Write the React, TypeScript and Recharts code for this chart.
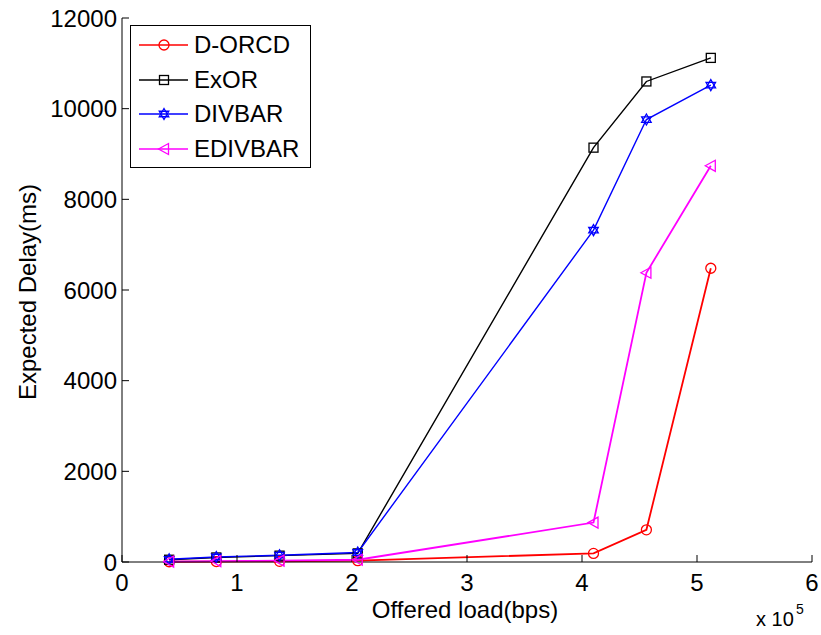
import React from 'react'
import { LineChart, Line, XAxis, YAxis, Label } from 'recharts'

// offered load, in units of 10^5 bps
const loads = [0.41, 0.82, 1.37, 2.05, 4.1, 4.56, 5.12]

const dorcd = [5, 10, 15, 30, 190, 710, 6480]
const exor = [50, 100, 140, 190, 9140, 10600, 11120]
const divbar = [60, 110, 150, 210, 7320, 9760, 10520]
const edivbar = [10, 20, 30, 50, 870, 6380, 8740]

const xTicks = [0, 1, 2, 3, 4, 5, 6]
const yTicks = [0, 2000, 4000, 6000, 8000, 10000, 12000]

const data = loads.map((x, i) => ({
  x,
  dorcd: dorcd[i],
  exor: exor[i],
  divbar: divbar[i],
  edivbar: edivbar[i],
}))

const FONT = '"Liberation Sans", Arial, Helvetica, sans-serif'

const CircleDot = (p: any) => (
  <circle key={p.key} cx={p.cx} cy={p.cy} r={5} fill="none" stroke={p.stroke} strokeWidth={1.3} />
)
const SquareDot = (p: any) => (
  <rect key={p.key} x={p.cx - 4.5} y={p.cy - 4.5} width={9} height={9} fill="none" stroke={p.stroke} strokeWidth={1.3} />
)
const hexPath = (cx: number, cy: number, r: number) => {
  const tri = (a0: number) =>
    [0, 1, 2]
      .map((k) => {
        const a = a0 + (k * 2 * Math.PI) / 3
        return `${cx + r * Math.cos(a)},${cy + r * Math.sin(a)}`
      })
      .join(' ')
  return [tri(-Math.PI / 2), tri(Math.PI / 2)]
}
const HexDot = (p: any) => {
  const [a, b] = hexPath(p.cx, p.cy, 5.5)
  return (
    <g key={p.key}>
      <polygon points={a} fill="none" stroke={p.stroke} strokeWidth={1.3} />
      <polygon points={b} fill="none" stroke={p.stroke} strokeWidth={1.3} />
    </g>
  )
}
const TriDot = (p: any) => (
  <polygon
    key={p.key}
    points={`${p.cx - 5.5},${p.cy} ${p.cx + 4.5},${p.cy - 5.5} ${p.cx + 4.5},${p.cy + 5.5}`}
    fill="none"
    stroke={p.stroke}
    strokeWidth={1.3}
  />
)

const series = [
  { key: 'dorcd', name: 'D-ORCD', color: '#ff0000', width: 1.8, Dot: CircleDot },
  { key: 'exor', name: 'ExOR', color: '#000000', width: 1.4, Dot: SquareDot },
  { key: 'divbar', name: 'DIVBAR', color: '#0000ff', width: 1.4, Dot: HexDot },
  { key: 'edivbar', name: 'EDIVBAR', color: '#ff00ff', width: 1.8, Dot: TriDot },
]

// tick labels drawn by hand so the font size sticks
const BottomTick = (p: any) => (
  <text x={p.x} y={p.y} dy="0.71em" textAnchor="middle" fontSize={24} fontFamily={FONT} fill="#000">
    {p.payload.value}
  </text>
)
const LeftTick = (p: any) => (
  <text x={p.x} y={p.y} dy="0.355em" textAnchor="end" fontSize={24} fontFamily={FONT} fill="#000">
    {p.payload.value}
  </text>
)

export default function App() {
  const noLabel = () => ''
  return (
    <div style={{ position: 'absolute', left: 0, top: 0, width: 821, height: 635, background: '#fff', fontFamily: FONT }}>
      <LineChart width={821} height={635} data={data} margin={{ top: 18, right: 9, bottom: 0, left: 0 }}>
        <XAxis
          xAxisId="b"
          dataKey="x"
          type="number"
          domain={[0, 6]}
          ticks={xTicks}
          height={73}
          tickSize={-7}
          tickMargin={19}
          stroke="#000"
          tick={<BottomTick />}
        >
          <Label
            content={() => (
              <text x={465} y={618} textAnchor="middle" fontSize={24} fontFamily={FONT} fill="#000">
                Offered load(bps)
              </text>
            )}
          />
        </XAxis>
        <XAxis
          xAxisId="t"
          orientation="top"
          dataKey="x"
          type="number"
          domain={[0, 6]}
          ticks={xTicks}
          height={0}
          tickSize={-7}
          tickFormatter={noLabel}
          stroke="#000"
        />
        <YAxis
          yAxisId="l"
          type="number"
          domain={[0, 12000]}
          ticks={yTicks}
          width={122}
          tickSize={-7}
          tickMargin={12}
          stroke="#000"
          tick={<LeftTick />}
        >
          <Label
            content={() => (
              <text x={36} y={292} transform="rotate(-90 36 292)" textAnchor="middle" fontSize={24} fontFamily={FONT} fill="#000">
                Expected Delay(ms)
              </text>
            )}
          />
        </YAxis>
        <YAxis
          yAxisId="r"
          orientation="right"
          type="number"
          domain={[0, 12000]}
          ticks={yTicks}
          width={0}
          tickSize={-7}
          tickFormatter={noLabel}
          stroke="#000"
        />
        {series.map((s) => (
          <Line
            key={s.key}
            xAxisId="b"
            yAxisId="l"
            dataKey={s.key}
            name={s.name}
            type="linear"
            stroke={s.color}
            strokeWidth={s.width}
            dot={(p: any) => <s.Dot {...p} stroke={s.color} />}
            activeDot={false}
            isAnimationActive={false}
          />
        ))}
      </LineChart>

      {/* legend box */}
      <div
        style={{
          position: 'absolute',
          left: 130,
          top: 25,
          width: 179,
          height: 141,
          border: '1px solid #000',
          background: '#fff',
        }}
      >
        {series.map((s, i) => (
          <div key={s.key} style={{ position: 'absolute', left: 0, top: 5 + i * 34.5, height: 28, width: 179 }}>
            <svg width={60} height={28} style={{ position: 'absolute', left: 8, top: 0 }}>
              <line x1={0} y1={14} x2={49} y2={14} stroke={s.color} strokeWidth={1.5} />
              <s.Dot cx={25} cy={14} stroke={s.color} />
            </svg>
            <span style={{ position: 'absolute', left: 63, top: 0, fontSize: 24, lineHeight: '28px', color: '#000' }}>
              {s.name}
            </span>
          </div>
        ))}
      </div>

      {/* exponent note */}
      <span style={{ position: 'absolute', left: 756, top: 609, fontSize: 20, lineHeight: '20px', color: '#000' }}>x 10</span>
      <span style={{ position: 'absolute', left: 796, top: 601, fontSize: 14, lineHeight: '16px', color: '#000' }}>5</span>
    </div>
  )
}
